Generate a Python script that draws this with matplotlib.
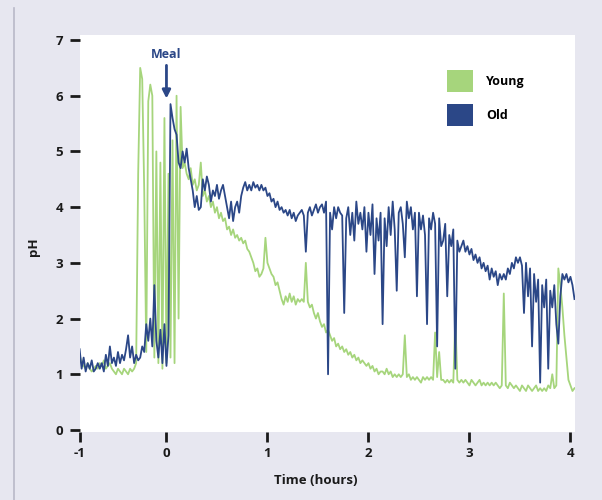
import numpy as np
import matplotlib
matplotlib.use('Agg')
from matplotlib import pyplot as plt
from matplotlib.patches import Patch
from matplotlib.lines import Line2D

plt.rcParams['font.family'] = ['Open Sans', 'DejaVu Sans']
plt.rcParams['font.weight'] = 'bold'

# sample times (hours), one reading every 0.02 h
time_h = np.round(np.arange(-0.86, 4.05, 0.02), 2)

young_ph = [
    1.35, 1.2, 1.15, 1.1, 1.2, 1.1, 1.05, 1.1, 1.15, 1.1,
    1.2, 1.15, 1.25, 1.1, 1.15, 1.2, 1.1, 1.05, 1.0, 1.1,
    1.05, 1.0, 1.1, 1.05, 1.0, 1.1, 1.05, 1.1, 1.2, 4.6,
    6.5, 6.3, 4.3, 1.4, 5.9, 6.2, 6.0, 1.3, 5.0, 1.2,
    4.8, 1.1, 5.6, 1.2, 4.6, 1.3, 5.2, 1.2, 6.0, 2.0,
    5.8, 4.7, 4.8, 4.6, 4.5, 4.7, 4.4, 4.5, 4.3, 4.4,
    4.8, 4.2, 4.3, 4.1, 4.2, 4.0, 4.1, 3.9, 4.0, 3.8,
    3.9, 3.75, 3.8, 3.6, 3.65, 3.5, 3.6, 3.45, 3.5, 3.4,
    3.45, 3.35, 3.4, 3.25, 3.2, 3.1, 3.0, 2.85, 2.9, 2.75,
    2.8, 2.9, 3.45, 3.0, 2.9, 2.8, 2.75, 2.6, 2.65, 2.5,
    2.35, 2.25, 2.4, 2.3, 2.45, 2.3, 2.4, 2.25, 2.35, 2.3,
    2.35, 2.3, 3.0, 2.3, 2.2, 2.25, 2.1, 2.0, 2.1, 1.95,
    1.85, 1.9, 1.75, 1.8, 1.7, 1.6, 1.65, 1.5, 1.55, 1.45,
    1.5, 1.4, 1.45, 1.35, 1.4, 1.3, 1.35, 1.25, 1.3, 1.2,
    1.25, 1.2, 1.15, 1.2, 1.1, 1.15, 1.05, 1.1, 1.0, 1.05,
    1.05, 1.0, 1.1, 1.0, 1.05, 0.95, 1.0, 0.95, 1.0, 0.95,
    1.0, 1.7, 0.95, 1.0, 0.9, 0.95, 0.9, 0.95, 0.9, 0.85,
    0.95, 0.9, 0.95, 0.9, 0.95, 0.9, 1.75, 0.95, 1.4, 0.9,
    0.9, 0.85, 0.9, 0.85, 0.9, 0.85, 2.0, 0.9, 0.85, 0.9,
    0.85, 0.9, 0.85, 0.8, 0.9, 0.85, 0.8, 0.85, 0.9, 0.8,
    0.85, 0.8, 0.85, 0.8, 0.85, 0.8, 0.85, 0.8, 0.75, 0.8,
    2.45, 0.8, 0.75, 0.85, 0.8, 0.75, 0.8, 0.75, 0.7, 0.8,
    0.75, 0.7, 0.8, 0.75, 0.7, 0.75, 0.8, 0.7, 0.75, 0.7,
    0.75, 0.7, 0.8, 0.75, 1.0, 0.75, 0.8, 2.9, 2.6, 2.2,
    1.7, 1.3, 0.9, 0.8, 0.7, 0.75,
]

old_ph = [
    1.45, 1.1, 1.3, 1.05, 1.2, 1.1, 1.25, 1.05, 1.1, 1.2,
    1.1, 1.2, 1.05, 1.35, 1.15, 1.5, 1.2, 1.3, 1.15, 1.4,
    1.2, 1.35, 1.25, 1.45, 1.7, 1.3, 1.5, 1.2, 1.35, 1.25,
    1.3, 1.5, 1.4, 1.9, 1.6, 2.0, 1.5, 2.6, 1.6, 1.3,
    1.8, 1.2, 1.9, 1.15, 1.7, 5.85, 5.6, 5.4, 5.3, 4.8,
    4.7, 5.0, 4.8, 5.05, 4.7, 4.5, 4.3, 4.0, 4.2, 3.95,
    4.0, 4.5, 4.3, 4.55, 4.4, 4.1, 4.3, 4.2, 4.4, 4.15,
    4.3, 4.4, 4.2, 4.0, 3.8, 4.1, 3.75, 4.0, 4.1, 3.9,
    4.2, 4.35, 4.45, 4.3, 4.4, 4.3, 4.45, 4.35, 4.4, 4.3,
    4.4, 4.3, 4.35, 4.2, 4.25, 4.1, 4.15, 4.0, 4.1, 3.95,
    4.0, 3.9, 3.95, 3.85, 3.95, 3.8, 3.9, 3.75, 3.85, 3.9,
    3.95, 3.85, 3.2, 3.9, 4.0, 3.85, 3.95, 4.05, 3.9, 4.0,
    4.05, 3.9, 4.1, 1.0, 3.9, 3.6, 4.0, 3.8, 4.0, 3.9,
    3.85, 2.1, 3.8, 4.0, 3.5, 3.9, 3.4, 4.1, 3.7, 3.9,
    3.6, 4.0, 3.2, 3.9, 3.5, 4.05, 2.8, 3.8, 3.4, 3.9,
    1.9, 3.8, 3.3, 4.0, 3.5, 4.1, 3.6, 2.5, 3.9, 4.0,
    3.7, 3.1, 4.1, 3.8, 4.0, 3.6, 3.9, 2.4, 3.9, 3.6,
    3.85, 3.5, 1.9, 3.8, 3.6, 3.9, 3.7, 1.5, 3.8, 3.3,
    3.4, 3.7, 2.4, 3.5, 3.3, 3.6, 1.1, 3.4, 3.2, 3.3,
    3.4, 3.2, 3.3, 3.15, 3.25, 3.05, 3.15, 3.0, 3.1, 2.9,
    3.0, 2.85, 2.95, 2.7, 2.9, 2.75, 2.85, 2.6, 2.8, 2.7,
    2.8, 2.7, 2.9, 2.8, 3.0, 2.9, 3.1, 3.0, 3.1, 2.95,
    2.1, 3.0, 2.4, 2.9, 1.5, 2.8, 2.3, 2.7, 0.85, 2.6,
    2.2, 2.7, 1.1, 2.5, 2.2, 2.6, 1.9, 1.55, 2.4, 2.8,
    2.7, 2.8, 2.65, 2.75, 2.6, 2.35,
]

x_ticks = [-0.856, 0, 1, 2, 3, 4]
x_labels = ['-1', '0', '1', '2', '3', '4']
y_ticks = [0, 1, 2, 3, 4, 5, 6, 7]

green = '#a6d57c'
blue = '#2b4787'
bg = '#e7e7f0'

fig = plt.figure(figsize=(6.02, 5.0), dpi=100, facecolor=bg)
# panel border on the left
fig.lines.append(Line2D([14 / 602, 14 / 602], [0, 1 - 8 / 500], transform=fig.transFigure,
                        color='#b9b9c8', lw=1.2))
ax = fig.add_axes([80 / 602, 68 / 500, 495 / 602, 397 / 500])
ax.set_facecolor('white')

ax.plot(time_h, young_ph, color=green, lw=1.3)
ax.plot(time_h, old_ph, color=blue, lw=1.3)

ax.set_xlim(-0.856, 4.045)
ax.set_ylim(-0.036, 7.09)
ax.set_xticks(x_ticks)
ax.set_xticklabels(x_labels)
ax.set_yticks(y_ticks)
for s in ax.spines.values():
    s.set_visible(False)
ax.tick_params(axis='both', direction='out', length=7, width=2, color='#1a1a1a',
               labelsize=9.5, labelcolor='#1a1a1a')
ax.tick_params(axis='x', pad=4)
ax.tick_params(axis='y', pad=5)

ax.set_xlabel('Time (hours)', fontsize=9.5, fontweight='bold', color='#1a1a1a')
ax.set_ylabel('pH', fontsize=9.5, fontweight='bold', color='#1a1a1a')
ax.xaxis.set_label_coords(0.477, -0.105)
ax.yaxis.set_label_coords(-0.081, 0.466)

ax.annotate('Meal', xy=(0.0, 5.95), xytext=(0.0, 6.62), ha='center', va='bottom',
            fontsize=9, fontweight='bold', color=blue,
            arrowprops=dict(arrowstyle='-|>', color=blue, lw=2, mutation_scale=12,
                            shrinkA=1, shrinkB=0))

handles = [Patch(facecolor=green, edgecolor='none', label='Young'),
           Patch(facecolor=blue, edgecolor='none', label='Old')]
ax.legend(handles=handles, loc='upper left', bbox_to_anchor=(0.729, 0.928),
          frameon=False, borderpad=0, handlelength=2.1, handleheight=2.35,
          labelspacing=0.95, handletextpad=1.0,
          prop={'size': 9, 'weight': 'bold'})

plt.savefig('out.png', dpi=100, facecolor=bg)
